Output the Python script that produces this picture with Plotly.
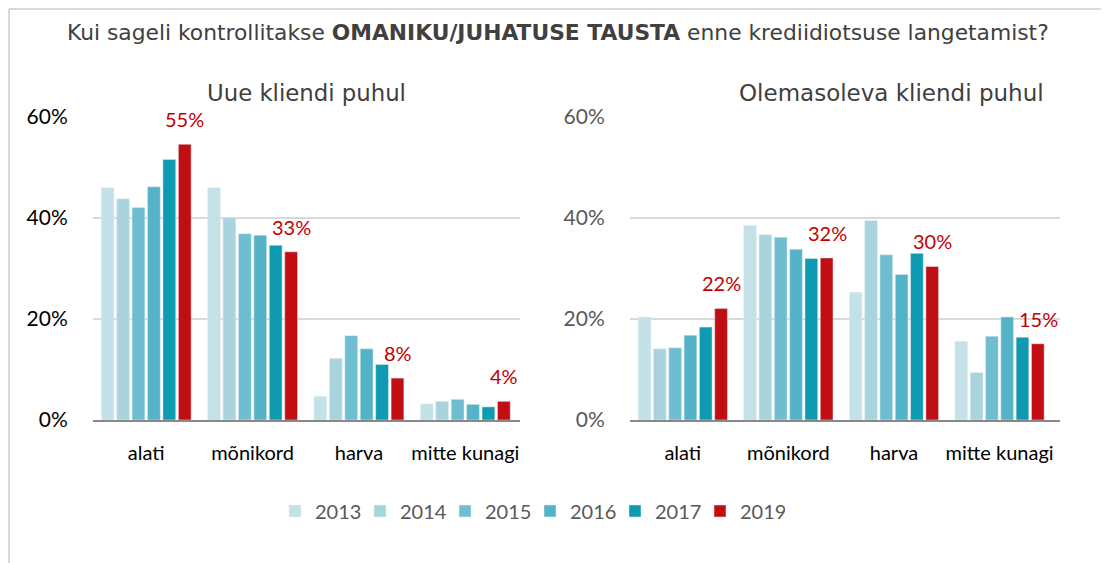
import plotly.graph_objects as go

# page body has an 8px margin; figure sized to the remaining viewport
OFF = 8
W, H = 1109 - OFF, 563 - OFF

categories = ["alati", "mõnikord", "harva", "mitte kunagi"]
years = ["2013", "2014", "2015", "2016", "2017", "2019"]
colors = ["#C5E1E8", "#A9D4DE", "#6FBDD0", "#55B3C8", "#0E9AB0", "#C00E12"]

# Uue kliendi puhul (values in %)
new_2013 = [46.0, 46.0, 4.7, 3.2]
new_2014 = [43.8, 40.1, 12.2, 3.7]
new_2015 = [42.1, 36.9, 16.7, 4.1]
new_2016 = [46.2, 36.6, 14.1, 3.1]
new_2017 = [51.6, 34.6, 11.0, 2.6]
new_2019 = [54.6, 33.3, 8.3, 3.7]

# Olemasoleva kliendi puhul (values in %)
old_2013 = [20.4, 38.5, 25.3, 15.6]
old_2014 = [14.1, 36.7, 39.5, 9.4]
old_2015 = [14.3, 36.2, 32.7, 16.6]
old_2016 = [16.8, 33.8, 28.8, 20.4]
old_2017 = [18.4, 32.0, 33.0, 16.4]
old_2019 = [22.1, 32.1, 30.4, 15.1]

new_series = [new_2013, new_2014, new_2015, new_2016, new_2017, new_2019]
old_series = [old_2013, old_2014, old_2015, old_2016, old_2017, old_2019]

title_text = "Kui sageli kontrollitakse <b>OMANIKU/JUHATUSE TAUSTA</b> enne krediidiotsuse langetamist?"
sub_left = "Uue kliendi puhul"
sub_right = "Olemasoleva kliendi puhul"
ytick_vals = [0, 20, 40, 60]
ytick_text = ["0%", "20%", "40%", "60%"]

FONT = "Lato"
TFONT = "DejaVu Sans"
BARGAP = 0.13
BARGROUPGAP = 0.17


def fx(px):
    return (px - OFF) / W


def fy(py):
    return 1 - (py - OFF) / H


# plot areas in screen px
L_x0, L_x1 = 93, 520
R_x0, R_x1 = 630, 1060
y_top, y_bot = 117, 420

fig = go.Figure()
for i, yr in enumerate(years):
    fig.add_trace(go.Bar(x=categories, y=new_series[i], name=yr, marker_color=colors[i],
                         legendgroup=yr, xaxis="x", yaxis="y"))
for i, yr in enumerate(years):
    fig.add_trace(go.Bar(x=categories, y=old_series[i], name=yr, marker_color=colors[i],
                         legendgroup=yr, showlegend=False, xaxis="x2", yaxis="y2"))


def label_shift(x0, x1):
    cat_w = (x1 - x0) / len(categories)
    slot = cat_w * (1 - BARGAP) / len(years)
    return 2.5 * slot


annotations = []
sL = label_shift(L_x0, L_x1)
sR = label_shift(R_x0, R_x1)
for c, v in zip(categories, new_2019):
    annotations.append(dict(x=c, y=v, xref="x", yref="y", text=f"{int(v + 0.5)}%",
                            showarrow=False, xshift=sL, yshift=25, yanchor="middle",
                            font=dict(family=FONT, size=20, color="#C00000")))
for c, v in zip(categories, old_2019):
    annotations.append(dict(x=c, y=v, xref="x2", yref="y2", text=f"{int(v + 0.5)}%",
                            showarrow=False, xshift=sR, yshift=25, yanchor="middle",
                            font=dict(family=FONT, size=20, color="#C00000")))

annotations.append(dict(x=fx(558), y=fy(33), xref="paper", yref="paper", text=title_text,
                        showarrow=False, xanchor="center", yanchor="middle",
                        font=dict(family=TFONT, size=21.8, color="#404040")))
annotations.append(dict(x=fx(306), y=fy(93), xref="paper", yref="paper", text=sub_left,
                        showarrow=False, xanchor="center", yanchor="middle",
                        font=dict(family=TFONT, size=22.8, color="#404040")))
annotations.append(dict(x=fx(891), y=fy(93), xref="paper", yref="paper", text=sub_right,
                        showarrow=False, xanchor="center", yanchor="middle",
                        font=dict(family=TFONT, size=23, color="#404040")))

ydom = [fy(y_bot), fy(y_top)]

common_x = dict(showgrid=False, showline=True, linecolor="#888888", linewidth=2,
                ticks="outside", ticklen=14, tickcolor="rgba(0,0,0,0)", automargin=False,
                tickfont=dict(family=FONT, size=20, color="#000000"), fixedrange=True)
common_y = dict(range=[0, 60], tickvals=ytick_vals, ticktext=ytick_text,
                showgrid=True, gridcolor="#D9D9D9", gridwidth=2, zeroline=False,
                showline=False, ticks="outside", ticklen=20, tickcolor="rgba(0,0,0,0)",
                automargin=False, domain=ydom, fixedrange=True)

fig.update_layout(
    width=W, height=H,
    margin=dict(l=0, r=0, t=0, b=0, pad=0, autoexpand=False),
    paper_bgcolor="white", plot_bgcolor="white",
    barmode="group", bargap=BARGAP, bargroupgap=BARGROUPGAP,
    xaxis=dict(domain=[fx(L_x0), fx(L_x1)], anchor="y", **common_x),
    xaxis2=dict(domain=[fx(R_x0), fx(R_x1)], anchor="y2", **common_x),
    yaxis=dict(anchor="x", tickfont=dict(family=FONT, size=21, color="#000000"), **common_y),
    yaxis2=dict(anchor="x2", tickfont=dict(family=FONT, size=21, color="#595959"), **common_y),
    legend=dict(orientation="h", x=fx(530), xanchor="center", y=fy(511), yanchor="middle",
                font=dict(family=FONT, size=20, color="#595959"), traceorder="normal",
                entrywidth=40, entrywidthmode="pixels",
                itemclick=False, itemdoubleclick=False),
    annotations=annotations,
    shapes=[
        dict(type="line", xref="paper", yref="paper", x0=fx(9), x1=fx(9), y0=0, y1=fy(9),
             line=dict(color="#D9D9D9", width=2)),
        dict(type="line", xref="paper", yref="paper", x0=fx(9), x1=1, y0=fy(9), y1=fy(9),
             line=dict(color="#D9D9D9", width=2)),
    ],
    showlegend=True,
)

fig.write_html("out.html")
